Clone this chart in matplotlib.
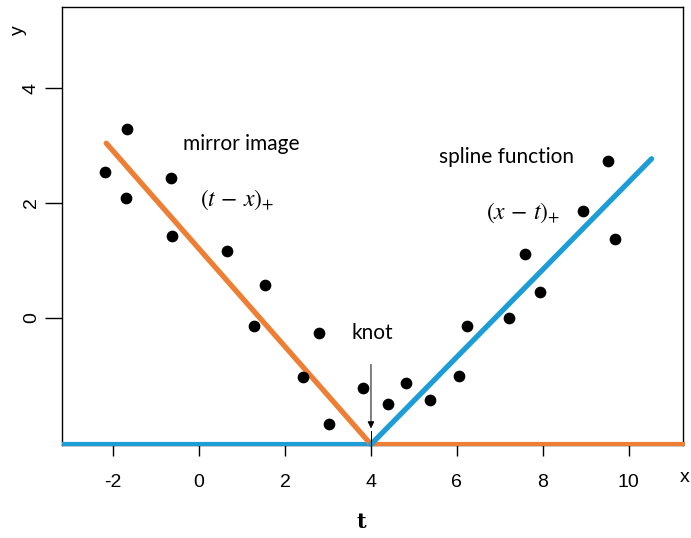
import numpy as np
import matplotlib.pyplot as plt

plt.rcParams['mathtext.fontset'] = 'stix'
plt.rcParams['axes.unicode_minus'] = False

# observed points
x_pts = [-2.19, -1.67, -1.70, -0.65, -0.63, 0.65, 1.53, 1.28, 2.79, 2.42, 3.02,
         3.81, 4.40, 4.81, 5.37, 6.05, 6.23, 7.21, 7.58, 7.93, 8.93, 9.51, 9.67]
y_pts = [2.54, 3.29, 2.09, 2.43, 1.43, 1.17, 0.57, -0.14, -0.26, -1.03, -1.84,
         -1.22, -1.50, -1.13, -1.43, -1.01, -0.14, 0.00, 1.11, 0.45, 1.86, 2.73, 1.37]

# knot and the two hinge pieces
knot_x, base_y = 4.0, -2.2
mirror_x = [-2.16, knot_x]
mirror_y = [3.04, base_y]
spline_x = [knot_x, 10.53]
spline_y = [base_y, 2.77]
flat_right_x = [knot_x, 11.3]
flat_left_x = [-3.19, knot_x]

orange = '#EE7E33'
blue = '#1C9DD8'

fig = plt.figure(figsize=(6.91, 5.38), dpi=100)
ax = fig.add_axes([0.0897, 0.1729, 0.8987, 0.8141])
ax.set_xlim(-3.19, 11.26)
ax.set_ylim(-2.21, 5.41)

ax.plot(flat_left_x, [base_y, base_y], color=blue, lw=3.0, zorder=3, clip_on=False,
        solid_capstyle='butt')
ax.plot(flat_right_x, [base_y, base_y], color=orange, lw=3.0, zorder=3, clip_on=False,
        solid_capstyle='butt')
ax.plot(mirror_x, mirror_y, color=orange, lw=3.8, zorder=3,
        solid_capstyle='round')
ax.plot(spline_x, spline_y, color=blue, lw=3.8, zorder=3, clip_on=False,
        solid_capstyle='round')

ax.scatter(x_pts, y_pts, s=55, color='black', zorder=4)

# knot marker
ax.annotate('', xy=(knot_x, -1.97), xytext=(knot_x, -0.76),
            arrowprops=dict(arrowstyle='-|>', color='black', lw=0.7,
                            mutation_scale=10), zorder=5)
ax.plot([knot_x, knot_x], [-1.97, base_y - 0.05], color='black', lw=0.7,
        zorder=5, clip_on=False)

# annotations
ax.text(0.98, 3.03, 'mirror image', fontsize=15, family='Lato',
        ha='center', va='center')
ax.text(0.88, 2.05, r'$(t\,-\,x)_{+}$', fontsize=17, ha='center', va='center')
ax.text(7.16, 2.80, 'spline function', fontsize=15, family='Lato',
        ha='center', va='center')
ax.text(7.53, 1.83, r'$(x\,-\,t)_{+}$', fontsize=17, ha='center', va='center')
ax.text(4.02, -0.26, 'knot', fontsize=15, family='Lato',
        ha='center', va='center')

ax.set_xticks([-2, 0, 2, 4, 6, 8, 10])
ax.set_yticks([0, 2, 4])
ax.tick_params(axis='x', direction='out', length=8, width=1, pad=13,
               labelsize=14)
ax.tick_params(axis='y', direction='out', length=12, width=1, pad=4,
               labelsize=14, labelrotation=90)
for lab in ax.get_xticklabels() + ax.get_yticklabels():
    lab.set_family('Liberation Sans')
for lab in ax.get_yticklabels():
    lab.set_va('center')

for side in ['left', 'top', 'right', 'bottom']:
    ax.spines[side].set_linewidth(1.0)

fig.text(685 / 691, 1 - 478 / 538, 'x', fontsize=14, family='Liberation Sans',
         ha='center', va='center')
fig.text(18 / 691, 1 - 30 / 538, 'y', fontsize=14, family='Liberation Sans',
         ha='center', va='center', rotation=90)
fig.text(361 / 691, 1 - 522 / 538, 't', fontsize=15, family='DejaVu Serif',
         weight='bold', ha='center', va='center')

fig.savefig('out.png', dpi=100)
